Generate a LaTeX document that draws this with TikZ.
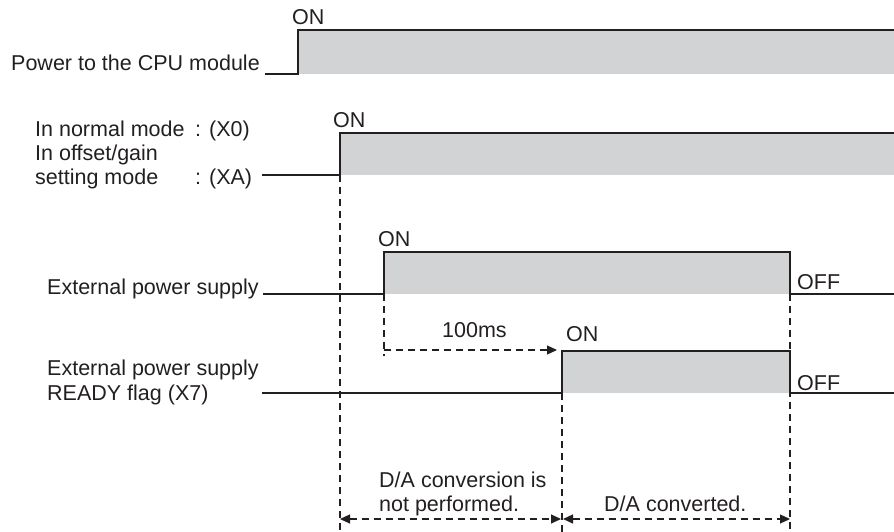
\documentclass[tikz,border=0pt]{standalone}
\usepackage{fontspec}
\setmainfont{Liberation Sans}
\usetikzlibrary{arrows.meta}
\definecolor{ink}{HTML}{231F20}
\definecolor{fillgray}{HTML}{D1D3D4}
\tikzset{
  sig/.style={draw=ink, line width=1.2bp, line join=miter},
  hi/.style={fill=fillgray, draw=none},
  dsh/.style={draw=ink, line width=1.2bp, dash pattern=on 7bp off 5bp},
  lbl/.style={anchor=base west, inner sep=0pt, text=ink, font=\fontsize{21.5bp}{25bp}\selectfont},
  tip/.style={-{Triangle[length=10bp,width=9bp]}},
  tips/.style={{Triangle[length=10bp,width=9bp]}-{Triangle[length=10bp,width=9bp]}}
}
\begin{document}
\begin{tikzpicture}[x=1bp,y=-1bp]
\useasboundingbox (0,0) rectangle (894,532);
% fills
\fill[hi] (298,30) rectangle (894,74);
\fill[hi] (340,133) rectangle (894,175);
\fill[hi] (384,252) rectangle (790,294);
\fill[hi] (562,351) rectangle (790,393);
% dashed verticals
\draw[dsh] (340,175) -- (340,532);
\draw[dsh] (384,294) -- (384,356);
\draw[dsh] (562,393) -- (562,532);
\draw[dsh] (790,294) -- (790,532);
% signals
\draw[sig] (265,74) -- (298,74) -- (298,30) -- (894,30);
\draw[sig] (262,175) -- (340,175) -- (340,133) -- (894,133);
\draw[sig] (263,294) -- (384,294) -- (384,252) -- (790,252) -- (790,294) -- (894,294);
\draw[sig] (262,393) -- (562,393) -- (562,351) -- (790,351) -- (790,393) -- (894,393);
% arrows
\coordinate (a0) at (384,350);
\coordinate (a1) at (557,350);
\draw[dsh,tip] (a0) -- (a1);
\coordinate (b0) at (340,519);
\coordinate (b1) at (561,519);
\coordinate (b2) at (563,519);
\coordinate (b3) at (790,519);
\draw[dsh,tips] (b0) -- (b1);
\draw[dsh,tips] (b2) -- (b3);
% labels
\node[lbl] (l1) at (11,71) {Power to the CPU module};
\node[lbl] (l2a) at (35,137) {In normal mode};
\node[lbl] (l2b) at (195,137) {: (X0)};
\node[lbl] (l2c) at (35,161) {In offset/gain};
\node[lbl] (l2d) at (35,185) {setting mode};
\node[lbl] (l2e) at (195,185) {: (XA)};
\node[lbl] (l3) at (47,295) {External power supply};
\node[lbl] (l4a) at (47,375) {External power supply};
\node[lbl] (l4b) at (47,400) {READY flag (X7)};
\node[lbl] (on1) at (292,25) {ON};
\node[lbl] (on2) at (333,128) {ON};
\node[lbl] (on3) at (378,247) {ON};
\node[lbl] (on4) at (566,342) {ON};
\node[lbl] (off3) at (797,290) {OFF};
\node[lbl] (off4) at (797,390) {OFF};
\node[lbl] (ms) at (442,338) {100ms};
\node[lbl] (da1) at (379,487) {D/A conversion is};
\node[lbl] (da2) at (379,511) {not performed.};
\node[lbl] (da3) at (604,511) {D/A converted.};
\end{tikzpicture}
\end{document}
